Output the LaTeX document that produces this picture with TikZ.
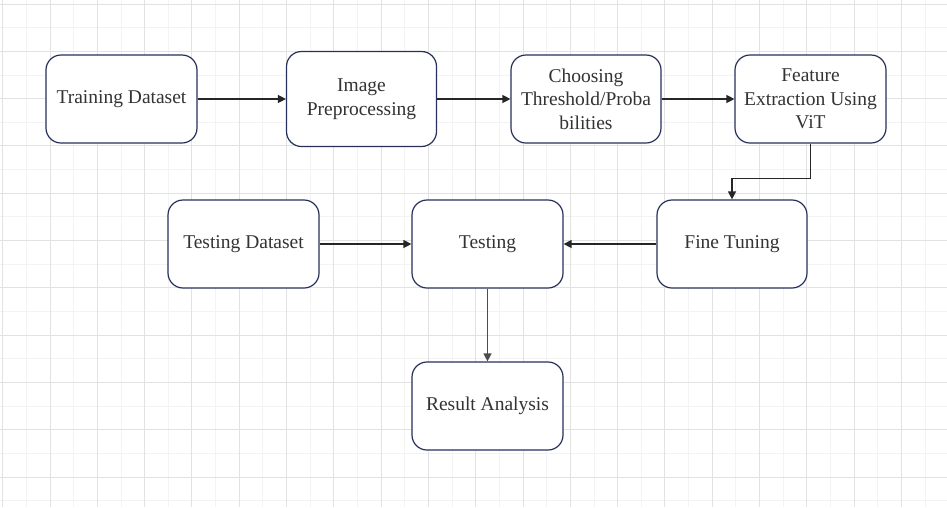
\documentclass[tikz,border=0pt]{standalone}
\usepackage{fontspec}
\setmainfont{Liberation Serif}
\usetikzlibrary{arrows.meta}
\definecolor{boxline}{HTML}{26305A}
\definecolor{txtgray}{HTML}{333333}
\definecolor{gridminor}{HTML}{F3F3F3}
\definecolor{gridmajor}{HTML}{E2E2E2}
\begin{document}
\begin{tikzpicture}[x=1pt, y=-1pt,
    stage/.style={draw=boxline, line width=1.2pt, rounded corners=15pt, fill=white,
        minimum width=151pt, minimum height=88pt, align=center, text=txtgray,
        font=\fontsize{19.5}{23.5}\selectfont, inner sep=2pt},
    flow/.style={draw=black!85, line width=1.3pt, -{Triangle[length=8pt, width=8pt]}}]
    % Canvas
    \useasboundingbox (0,0) rectangle (947,507);
    \fill[white] (0,0) rectangle (947,507);
    
    % Grid
    \foreach \k in {0,...,40}
        \draw[gridminor, line width=0.9pt] (2.7+23.65*\k,0) -- (2.7+23.65*\k,507);
    \foreach \k in {0,...,21}
        \draw[gridminor, line width=0.9pt] (0,4+23.65*\k) -- (947,4+23.65*\k);
    \foreach \k in {0,...,20}
        \draw[gridmajor, line width=0.9pt] (2.7+47.3*\k,0) -- (2.7+47.3*\k,507);
    \foreach \k in {0,...,10}
        \draw[gridmajor, line width=0.9pt] (0,4+47.3*\k) -- (947,4+47.3*\k);
    
    % Top row
    \node[stage] (train) at (121.5,99) {Training Dataset};
    \node[stage, minimum width=150pt, minimum height=95pt] (prep) at (361.5,99) {Image\\Preprocessing};
    \node[stage, minimum width=150pt] (thresh) at (586,99) {Choosing\\Threshold/Proba\\bilities};
    \node[stage] (feat) at (810.5,99) {Feature\\Extraction Using\\ViT};
    
    % Middle row
    \node[stage] (testdata) at (243.5,244) {Testing Dataset};
    \node[stage] (test) at (487.5,244) {Testing};
    \node[stage, minimum width=150pt] (fine) at (732,244) {Fine Tuning};
    
    % Bottom
    \node[stage] (result) at (487.5,406) {Result Analysis};
    
    % Arrows
    \draw[flow] (train) -- (prep);
    \draw[flow] (prep) -- (thresh);
    \draw[flow] (thresh) -- (feat);
    \draw[flow] (feat.south) -- ++(0,35) -| (fine.north);
    \draw[flow] (fine) -- (test);
    \draw[flow] (testdata) -- (test);
    \draw[flow, draw=black!70] (test) -- (result);
\end{tikzpicture}
\end{document}
